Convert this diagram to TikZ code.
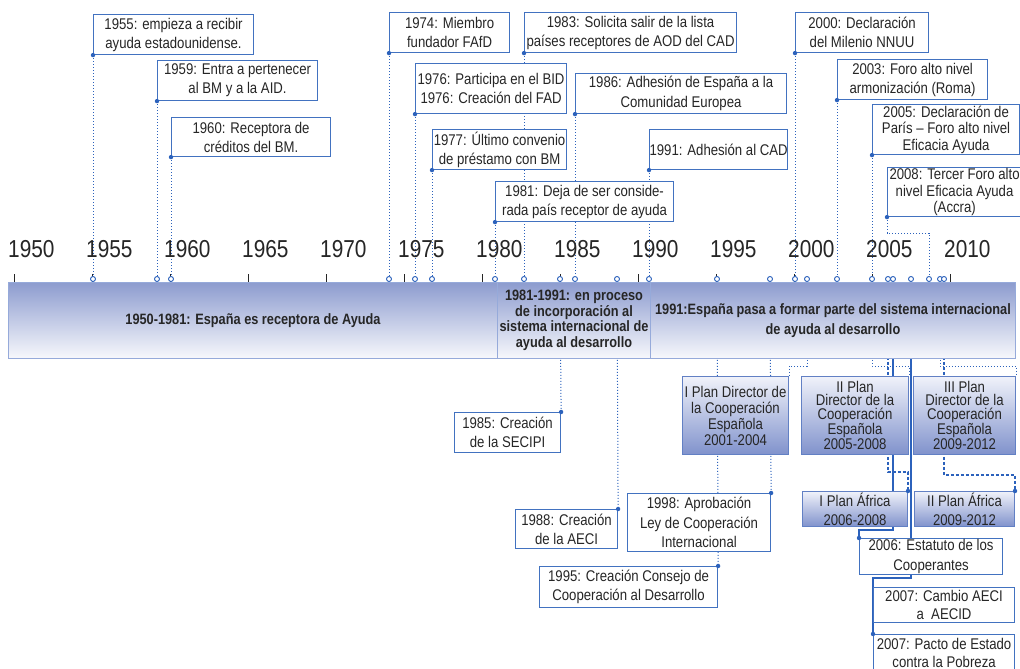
\documentclass[tikz,border=0pt]{standalone}
\usepackage{fontspec}
\setmainfont{Liberation Sans}[FakeStretch=0.85]
\usetikzlibrary{backgrounds}
\definecolor{bord}{RGB}{66,114,192}
\definecolor{txt}{RGB}{38,38,38}
\definecolor{lnk}{RGB}{44,98,188}
\definecolor{bandtop}{RGB}{141,156,207}
\definecolor{bandbot}{RGB}{247,248,252}
\definecolor{bandbord}{RGB}{150,170,218}
\definecolor{plantop}{RGB}{240,242,250}
\definecolor{planbot}{RGB}{128,146,204}
\definecolor{planbord}{RGB}{98,128,196}
\begin{document}
\begin{tikzpicture}[x=1pt,y=-1pt,
  wh/.style 2 args={minimum width=#1pt,minimum height=#2pt},
  ev/.style={draw=bord,line width=1.1pt,fill=white,inner sep=0pt,align=center,text=txt,
    font=\fontsize{15.5}{19}\selectfont,anchor=north west},
  ev3/.style={ev,font=\fontsize{15.5}{16.5}\selectfont},
  bandbox/.style={draw=bandbord,line width=1pt,top color=bandtop,bottom color=bandbot,
    inner sep=0pt,align=center,text=txt,font=\fontsize{15}{15.5}\selectfont\bfseries,anchor=north west},
  planbox/.style={draw=planbord,line width=1pt,top color=plantop,bottom color=planbot,
    inner sep=0pt,align=center,text=txt,font=\fontsize{15.5}{16}\selectfont,anchor=north west},
  axc/.style={circle,draw=lnk,fill=white,line width=0.9pt,minimum size=5pt,inner sep=0pt},
  yearlbl/.style={font=\fontsize{24.5}{26}\selectfont,text=txt,inner sep=0pt,anchor=base west},
  dotl/.style={draw=lnk,line width=1pt,dash pattern=on 1pt off 2pt},
  dashl/.style={draw=lnk,line width=1.2pt,dash pattern=on 3pt off 2pt},
  solidl/.style={draw=lnk,line width=1.2pt},
  tickl/.style={draw=txt,line width=1pt}
]
\clip (0,0) rectangle (1020,669);

% ---------- axis years and ticks ----------
\foreach \yr in {1950,1955,...,2010}{
  \node[yearlbl] (y\yr) at ({14+15.6*(\yr-1950)-6},257) {\yr};
}

% ---------- bands ----------
\node[bandbox,wh={489}{76}] (b1) at (8,282) {1950-1981: España es receptora de Ayuda};
\node[bandbox,wh={153}{76}] (b2) at (497,282) {1981-1991: en proceso\\de incorporación al\\sistema internacional de\\ayuda al desarrollo};
\node[bandbox,wh={365}{76},font=\fontsize{15}{20}\selectfont\bfseries] (b3) at (650,282) {1991:España pasa a formar parte del sistema internacional\\de ayuda al desarrollo};

\foreach \yr in {1950,1955,...,2010}{
  \draw[tickl] ({14+15.6*(\yr-1950)},274) -- ({14+15.6*(\yr-1950)},282);
}

% ---------- axis circles ----------
\foreach \n/\x in {55/93,59/157,60/171,74/389,76/415,77/432,81/495,83/524,85/560,86/575,88/617,91/649,95/717,98/770,00/795,01/807,03/837,05/872,06a/888,06b/893,07/911,08/929,09a/940,09b/944}{
  \node[axc] (c\n) at (\x,279) {};
}

% ---------- top event boxes ----------
\node[ev,wh={160}{40}] (e55) at (93,14) {1955: empieza a recibir\\ayuda estadounidense.};
\node[ev,wh={160}{40}] (e59) at (157,60) {1959: Entra a pertenecer\\al BM y a la AID.};
\node[ev,wh={159}{39}] (e60) at (171,117) {1960: Receptora de\\créditos del BM.};
\node[ev,wh={120}{40}] (e74) at (389,12) {1974: Miembro\\fundador FAfD};
\node[ev,wh={212}{40}] (e83) at (524,12) {1983: Solicita salir de la lista\\países receptores de AOD del CAD};
\node[ev,wh={151}{50},font=\fontsize{15.5}{18.5}\selectfont] (e76) at (415,63) {1976: Participa en el BID\\1976: Creación del FAD};
\node[ev,wh={211}{40},font=\fontsize{15.5}{20}\selectfont] (e86) at (575,73) {1986: Adhesión de España a la\\Comunidad Europea};
\node[ev,wh={134}{40}] (e77) at (432,129) {1977: Último convenio\\de préstamo con BM};
\node[ev,wh={134}{40}] (e91) at (649,129) {1991: Adhesión al CAD};
\node[ev,wh={178}{40}] (e81) at (495,181) {1981: Deja de ser conside-\\rada país receptor de ayuda};
\node[ev,wh={133}{40}] (e00) at (795,12) {2000: Declaración\\del Milenio NNUU};
\node[ev,wh={150}{40}] (e03) at (837,59) {2003: Foro alto nivel\\armonización (Roma)};
\node[ev3,wh={147}{50}] (e05) at (872,104) {2005: Declaración de\\París – Foro alto nivel\\Eficacia Ayuda};
\node[ev3,wh={134}{49}] (e08) at (887,167) {2008: Tercer Foro alto\\nivel Eficacia Ayuda\\(Accra)};

% ---------- plan boxes ----------
\node[planbox,wh={106}{78}] (p1) at (682,376) {I Plan Director de\\la Cooperación\\Española\\2001-2004};
\node[planbox,wh={107}{78},font=\fontsize{15.5}{13.5}\selectfont] (p2) at (801,376) {II Plan\\Director de la\\Cooperación\\Española\\2005-2008};
\node[planbox,wh={102}{78},font=\fontsize{15.5}{13.5}\selectfont] (p3) at (913,376) {III Plan\\Director de la\\Cooperación\\Española\\2009-2012};
\node[planbox,wh={105}{35},font=\fontsize{15.5}{19}\selectfont] (a1) at (802,491) {I Plan África\\2006-2008};
\node[planbox,wh={100}{35},font=\fontsize{15.5}{19}\selectfont] (a2) at (914,491) {II Plan África\\2009-2012};

% ---------- lower event boxes ----------
\node[ev,wh={106}{40}] (e85) at (454,412) {1985: Creación\\de la SECIPI};
\node[ev,wh={102}{39}] (e88) at (515,509) {1988: Creación\\de la AECI};
\node[ev,wh={178}{41}] (e95) at (539,566) {1995: Creación Consejo de\\Cooperación al Desarrollo};
\node[ev,wh={143}{58},font=\fontsize{15.5}{19.5}\selectfont] (e98) at (627,493) {1998: Aprobación\\Ley de Cooperación\\Internacional};
\node[ev,wh={143}{36},font=\fontsize{15.5}{20}\selectfont] (st) at (859,538) {2006: Estatuto de los\\Cooperantes};
\node[ev,wh={141}{35},font=\fontsize{15.5}{17.5}\selectfont] (ca) at (873,587) {2007: Cambio AECI\\a\ \ AECID};
\node[ev,wh={141}{37},font=\fontsize{15.5}{18}\selectfont] (pa) at (873,634) {2007: Pacto de Estado\\contra la Pobreza};

% ---------- connectors (behind everything) ----------
\begin{scope}[on background layer]
  \fill[white] (0,0) rectangle (1020,669);
  \foreach \n in {55,59,60,74,76,77,81,83,86,91,00,03,05}{
    \draw[dotl] (e\n.south west) -- (c\n.north);
  }
  \draw[dotl] (c85) -- (e85.north east);
  \draw[dotl] (c88) -- (e88.north east);
  \draw[dotl] (c95) -- (e95.north east);
  \draw[dotl] (c98) -- (e98.north east);
  \coordinate (k1) at (807,366);
  \coordinate (k2) at (872,366);
  \coordinate (k3) at (940,366);
  \draw[dotl] (c01) -- (k1) -| (p1.north east);
  \draw[dotl] (c05) -- (k2) -| (p2.north east);
  \draw[dotl] (c09a) -- (k3) -| (p3.north east);
  \coordinate (k4) at (888,472);
  \coordinate (k5) at (944,475);
  \draw[dashl] (c06a) -- (k4) -| (a1.north east);
  \draw[dashl] (c09b) -- (k5) -| (a2.north east);
  \coordinate (k6) at (893,530);
  \coordinate (k7) at (911,578);
  \draw[solidl] (c06b) -- (k6) -| (st.north west);
  \draw[solidl] (c07) -- (k7) -| (pa.north west);
  \coordinate (k8) at (887,233);
  \draw[dotl] (e08.south west) -- (k8) -| (c08.north);
\end{scope}

% ---------- dots ----------
\foreach \p in {e55.south west,e59.south west,e60.south west,e74.south west,e83.south west,
  e76.south west,e86.south west,e77.south west,e91.south west,e81.south west,e00.south west,
  e03.south west,e05.south west,e08.south west,e85.north east,e88.north east,e95.north east,
  e98.north east,a1.north east,a2.north east,st.north west,pa.north west}{
  \fill[lnk] (\p) circle (2.2pt);
}
\end{tikzpicture}
\end{document}
